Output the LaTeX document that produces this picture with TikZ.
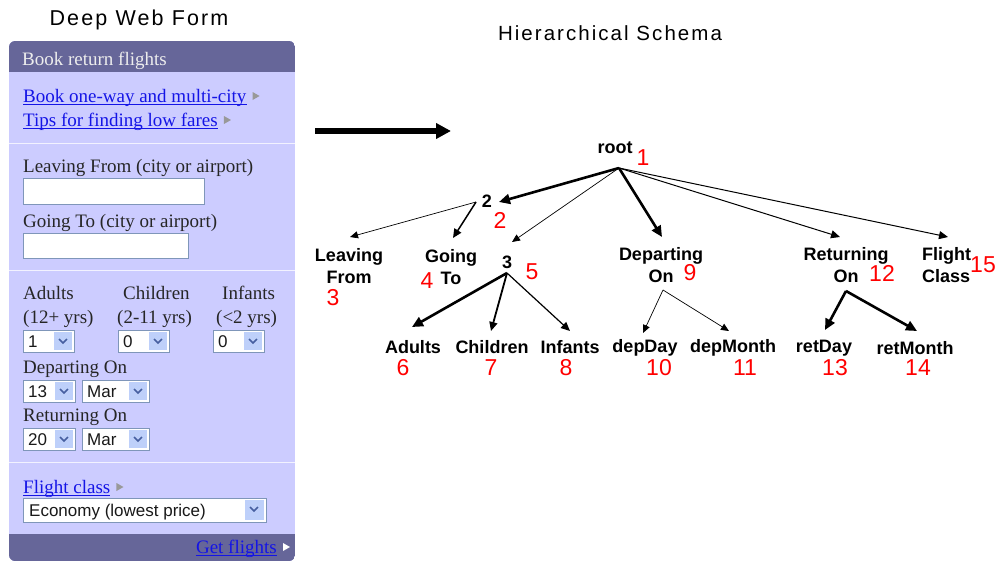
\documentclass[tikz,border=0pt]{standalone}
\usepackage{fontspec}
\setmainfont{Liberation Serif}
\newfontfamily\arialfont{Liberation Sans}
\newfontfamily\titlefont[LetterSpace=10]{Liberation Sans}
\usetikzlibrary{arrows.meta,positioning}

\definecolor{formbg}{RGB}{204,204,255}
\definecolor{formbar}{RGB}{102,102,153}
\definecolor{linkblue}{RGB}{20,20,230}
\definecolor{boxedge}{RGB}{127,150,185}
\definecolor{btnblue}{RGB}{190,208,250}
\definecolor{chevblue}{RGB}{70,95,160}

\tikzset{
  formtxt/.style={anchor=base west, inner sep=0pt, font=\fontsize{19}{22}\selectfont, text=black!85},
  formlink/.style={formtxt, text=linkblue},
  fieldval/.style={anchor=base west, inner sep=0pt, font=\arialfont\fontsize{17}{20}\selectfont, text=black!90},
  inbox/.style={draw=boxedge, fill=white, line width=0.8pt},
  linktri/.style={fill=black!40},
  treelbl/.style={font=\arialfont\bfseries\fontsize{18}{21.5}\selectfont, align=center, inner sep=0pt},
  rednum/.style={font=\arialfont\fontsize{23}{25}\selectfont, text=red, inner sep=0pt},
  thinedge/.style={-{Triangle[length=8pt,width=7pt]}, line width=0.7pt},
  midedge/.style={-{Triangle[length=9pt,width=8pt]}, line width=1.2pt},
  thickedge/.style={-{Triangle[length=11pt,width=10pt]}, line width=2.6pt},
}

% dropdown field: name, left x, top y, right x, value
\newcommand\dropbox[5]{%
  \draw[inbox] (#2,#3) rectangle (#4,#3+22);
  \fill[btnblue] (#4-20,#3+2) rectangle (#4-2,#3+20);
  \draw[chevblue, line width=1.5pt] (#4-15,#3+9) -- (#4-11,#3+13) -- (#4-7,#3+9);
  \node[fieldval] (#1) at (#2+5,#3+17) {#5};
}
% underline and small arrow after a link node: name, arrow colour
\newcommand\linkmark[2]{%
  \draw[linkblue, line width=0.9pt] ([yshift=-2.5pt]#1.base west) -- ([yshift=-2.5pt]#1.base east);
  \fill[#2] ([xshift=6pt,yshift=2pt]#1.base east) -- ([xshift=13pt,yshift=6pt]#1.base east)
    -- ([xshift=6pt,yshift=10pt]#1.base east) -- cycle;
}

\begin{document}
\begin{tikzpicture}[x=1pt,y=-1pt]
	\useasboundingbox (0,0) rectangle (999,562);
	
	% --- the web form ---
	\node[font=\titlefont\fontsize{21.5}{24}\selectfont] (formtitle) at (139,20) {Deep Web Form};
	
	\begin{scope}
		\clip[rounded corners=6pt] (9,41) rectangle (295,561);
		\fill[formbg] (9,41) rectangle (295,561);
		\fill[formbar] (9,41) rectangle (295,72);
		\fill[formbar] (9,534) rectangle (295,561);
	\end{scope}
	\foreach \sy in {143,270,462}
		\draw[white!75!formbg, line width=1pt] (9,\sy) -- (295,\sy);
	
	\node[formtxt, text=black!7] (hdr) at (22,65) {Book return flights};
	\node[formlink] (lnkoneway) at (23,102) {Book one-way and multi-city};
	\linkmark{lnkoneway}{black!40}
	\node[formlink] (lnktips) at (23,126) {Tips for finding low fares};
	\linkmark{lnktips}{black!40}
	
	\node[formtxt] (lblleave) at (23,172) {Leaving From (city or airport)};
	\draw[inbox] (23,178) rectangle (204,204);
	\node[formtxt] (lblgoing) at (23,227) {Going To (city or airport)};
	\draw[inbox] (23,233) rectangle (188,258);
	
	\node[formtxt] (lbladults) at (23,299) {Adults};
	\node[formtxt] (lblchildren) at (123,299) {Children};
	\node[formtxt] (lblinfants) at (222,299) {Infants};
	\node[formtxt] (ageadults) at (23,323) {(12+ yrs)};
	\node[formtxt] (agechildren) at (117,323) {(2-11 yrs)};
	\node[formtxt] (ageinfants) at (216,323) {(<2 yrs)};
	\dropbox{valadults}{23}{330}{74}{1}
	\dropbox{valchildren}{118}{330}{169}{0}
	\dropbox{valinfants}{213}{330}{264}{0}
	
	\node[formtxt] (lbldepart) at (23,373) {Departing On};
	\dropbox{depdayval}{23}{380}{75}{13}
	\dropbox{depmonval}{82}{380}{149}{Mar}
	\node[formtxt] (lblreturn) at (23,421) {Returning On};
	\dropbox{retdayval}{23}{428}{75}{20}
	\dropbox{retmonval}{82}{428}{149}{Mar}
	
	\node[formlink] (lnkclass) at (23,493) {Flight class};
	\linkmark{lnkclass}{black!40}
	\draw[inbox] (23,498) rectangle (266,522);
	\fill[btnblue] (245,500) rectangle (264,520);
	\draw[chevblue, line width=1.5pt] (250,507) -- (254,511) -- (258,507);
	\node[fieldval] (valclass) at (29,516) {Economy (lowest price)};
	
	\node[formlink, anchor=base east] (lnkget) at (277,553) {Get flights};
	\linkmark{lnkget}{white}
	
	% --- arrow between the two ---
	\coordinate (formR) at (315,131);
	\coordinate (schemaL) at (451,131);
	\draw[line width=6pt, -{Triangle[length=15pt,width=15pt]}] (formR) -- (schemaL);
	
	% --- the schema tree ---
	\node[font=\titlefont\fontsize{20.5}{24}\selectfont] (schematitle) at (610,33) {Hierarchical Schema};
	
	\coordinate (p1) at (619,168);
	\coordinate (p2) at (476,202);
	\coordinate (p5) at (507,273);
	\coordinate (p9) at (663,290);
	\coordinate (p12) at (846,291);
	
	\coordinate (t2) at (499,202);
	\coordinate (t3) at (350,237);
	\coordinate (t4) at (453,238);
	\coordinate (t5) at (512,242);
	\coordinate (t9) at (662,237);
	\coordinate (t12) at (840,237);
	\coordinate (t15) at (948,237);
	\coordinate (t6) at (412,327);
	\coordinate (t7) at (491,331);
	\coordinate (t8) at (570,331);
	\coordinate (t10) at (643,333);
	\coordinate (t11) at (729,331);
	\coordinate (t13) at (825,330);
	\coordinate (t14) at (917,331);
	
	\node[treelbl] (root) at (615,148) {root};
	\node[treelbl] (two) at (487,201) {2};
	\node[treelbl] (three) at (507,262) {3};
	\node[treelbl] (leaving) at (349,266) {Leaving\\From};
	\node[treelbl] (going) at (451,267) {Going\\To};
	\node[treelbl] (departing) at (661,265) {Departing\\On};
	\node[treelbl] (returning) at (846,265) {Returning\\On};
	\node[treelbl, align=left, anchor=west] (flightclass) at (922,265) {Flight\\Class};
	\node[treelbl] (adults) at (413,347) {Adults};
	\node[treelbl] (children) at (492,347) {Children};
	\node[treelbl] (infants) at (570,347) {Infants};
	\node[treelbl] (depday) at (645,348) {depDay};
	\node[treelbl] (depmonth) at (733,348) {depMonth};
	\node[treelbl] (retday) at (824,348) {retDay};
	\node[treelbl] (retmonth) at (915,348) {retMonth};
	
	\node[rednum] (n1) at (643,158) {1};
	\node[rednum] (n2) at (500,220) {2};
	\node[rednum] (n3) at (333,298) {3};
	\node[rednum] (n4) at (427,281) {4};
	\node[rednum] (n5) at (532,272) {5};
	\node[rednum] (n9) at (690,273) {9};
	\node[rednum] (n12) at (882,273) {12};
	\node[rednum] (n15) at (983,265) {15};
	\node[rednum] (n6) at (403,368) {6};
	\node[rednum] (n7) at (491,368) {7};
	\node[rednum] (n8) at (566,368) {8};
	\node[rednum] (n10) at (659,368) {10};
	\node[rednum] (n11) at (745,368) {11};
	\node[rednum] (n13) at (835,368) {13};
	\node[rednum] (n14) at (918,368) {14};
	
	\draw[thickedge] (p1) -- (t2);
	\draw[thinedge] (p1) -- (t5);
	\draw[thickedge] (p1) -- (t9);
	\draw[midedge, line width=1pt] (p1) -- (t12);
	\draw[midedge, line width=1pt] (p1) -- (t15);
	\draw[thinedge] (p2) -- (t3);
	\draw[midedge, line width=1.5pt] (p2) -- (t4);
	\draw[thickedge] (p5) -- (t6);
	\draw[midedge, line width=1.8pt] (p5) -- (t7);
	\draw[midedge] (p5) -- (t8);
	\draw[thinedge] (p9) -- (t10);
	\draw[thinedge] (p9) -- (t11);
	\draw[thickedge] (p12) -- (t13);
	\draw[thickedge] (p12) -- (t14);
\end{tikzpicture}
\end{document}
